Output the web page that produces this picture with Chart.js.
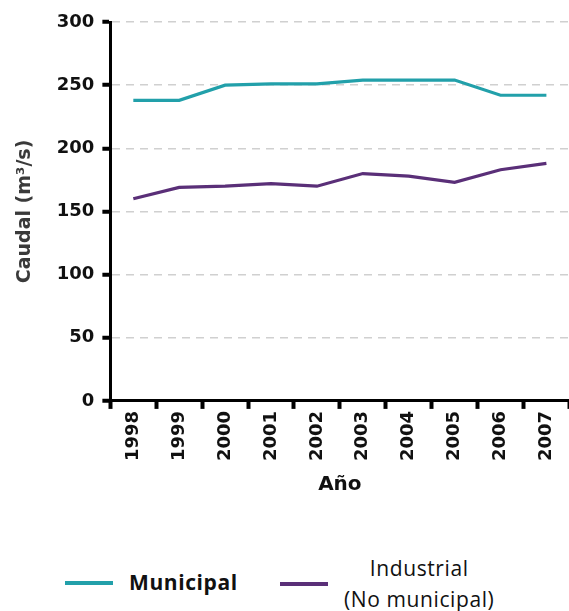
<!DOCTYPE html>
<html>
<head>
<meta charset="utf-8">
<script src="https://cdn.jsdelivr.net/npm/chart.js@4"></script>
<style>
  body { margin: 0; background: #fff; font-family: "Open Sans", sans-serif; }
  #wrap { position: relative; width: 569px; height: 611px; }
  #box { position: absolute; left: 0; top: 0; width: 570px; height: 505px; }
  #legend { position: absolute; left: 0; top: 553px; width: 569px; height: 58px; }
  .item { position: absolute; display: flex; align-items: center; color: #111; font-size: 21px; letter-spacing: 0.6px; }
  .swatch { width: 48px; height: 4px; margin-right: 16px; }
  .txt { text-align: center; line-height: 31px; }
</style>
</head>
<body>
<div id="wrap">
  <div id="box"><canvas id="myChart"></canvas></div>
  <div id="legend"></div>
</div>
<script>
// Data
const years = ['1998', '1999', '2000', '2001', '2002', '2003', '2004', '2005', '2006', '2007'];
const municipal = [238, 238, 250, 251, 251, 254, 254, 254, 242, 242];
const industrial = [160, 169, 170, 172, 170, 180, 178, 173, 183, 188];
const seriesNames = [['Municipal'], ['Industrial', '(No municipal)']];
const seriesColors = ['#22a0aa', '#5a2f78'];

const tickFont = { family: 'DejaVu Sans', size: 18, weight: 'bold' };

const ctx = document.getElementById('myChart').getContext('2d');
const chart = new Chart(ctx, {
  type: 'line',
  data: {
    labels: years,
    datasets: [
      { label: seriesNames[0], data: municipal, borderColor: seriesColors[0], backgroundColor: seriesColors[0] },
      { label: seriesNames[1], data: industrial, borderColor: seriesColors[1], backgroundColor: seriesColors[1] },
    ],
  },
  options: {
    responsive: true,
    maintainAspectRatio: false,
    animation: false,
    layout: { padding: { top: 22, right: 0, left: 14, bottom: 8 } },
    elements: {
      line: { borderWidth: 3.2, tension: 0 },
      point: { radius: 0 },
    },
    scales: {
      x: {
        offset: true,
        grid: {
          offset: true,
          drawOnChartArea: false,
          drawTicks: true,
          tickLength: 8,
          tickWidth: 4,
          tickColor: '#000',
        },
        border: { display: true, color: '#000', width: 3 },
        ticks: {
          color: '#111',
          font: tickFont,
          minRotation: 90,
          maxRotation: 90,
          padding: 2,
        },
        title: {
          display: true,
          text: 'Año',
          color: '#111',
          font: { family: 'DejaVu Sans', size: 20, weight: 'bold' },
          padding: { top: 10, bottom: 0 },
        },
      },
      y: {
        min: 0,
        max: 300,
        ticks: { stepSize: 50, color: '#111', font: tickFont, padding: 8 },
        grid: {
          color: '#d0d0d0',
          lineWidth: 1.5,
          drawTicks: true,
          tickLength: 8,
          tickWidth: 4,
          tickColor: '#000',
        },
        border: { display: true, color: '#000', width: 3, dash: [8, 6] },
        title: {
          display: true,
          text: 'Caudal (m³/s)',
          color: '#3a3a3a',
          font: { family: 'DejaVu Sans', size: 19, weight: 'bold' },
          padding: { top: 0, bottom: 12 },
        },
      },
    },
    plugins: {
      legend: { display: false },
      tooltip: { enabled: false },
    },
  },
});

// Legend built from the datasets (second label spans two lines)
const legend = document.getElementById('legend');
const legendPos = [{ left: 65, bold: true }, { left: 280, bold: false }];
chart.data.datasets.forEach((ds, i) => {
  const item = document.createElement('div');
  item.className = 'item';
  item.style.left = legendPos[i].left + 'px';
  item.style.top = i === 0 ? '14px' : '0px';
  const sw = document.createElement('div');
  sw.className = 'swatch';
  sw.style.background = ds.borderColor;
  const txt = document.createElement('div');
  txt.className = 'txt';
  txt.style.fontWeight = legendPos[i].bold ? '700' : '400';
  txt.innerHTML = ds.label.join('<br>');
  item.appendChild(sw);
  item.appendChild(txt);
  legend.appendChild(item);
});
</script>
</body>
</html>
